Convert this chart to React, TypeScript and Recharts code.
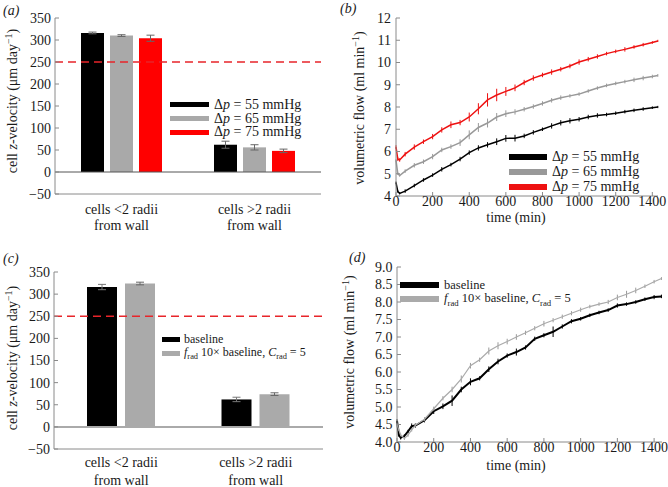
import React from 'react';
import { BarChart, Bar, LineChart, Line, XAxis, YAxis, ReferenceLine, ErrorBar, Legend } from 'recharts';

const FONT = '"Liberation Serif", "Times New Roman", serif';
const INK = '#1a1a1a';
const FRAME = '#8a8a8a';

// ---- (a) cell z-velocity for three pressure drops
const CATEGORIES = ['cells <2 radii\nfrom wall', 'cells >2 radii\nfrom wall'];
const VEL_55 = [316, 62];
const VEL_65 = [310, 56];
const VEL_75 = [304, 48];
const ERR_55 = [2, 8];
const ERR_65 = [2, 6];
const ERR_75 = [7, 4];
const PRESSURES = ['55', '65', '75'];

// ---- (c) baseline vs. increased radial force
const VEL_BASE = [316, 62];
const VEL_FRAD = [324, 74];
const ERR_BASE = [6, 5];
const ERR_FRAD = [3, 3];

const VEL_TICKS = [-50, 0, 50, 100, 150, 200, 250, 300, 350];
const TARGET_VEL = 250;

// ---- (b) volumetric flow over time
const TIME_B = [0, 10, 20, 50, 100, 150, 200, 250, 300, 350, 400, 450, 500, 550, 600, 650, 700, 750, 800, 850, 900, 950, 1000, 1050, 1100, 1150, 1200, 1250, 1300, 1350, 1400, 1430];
const FLOW_55 = [4.6, 4.2, 4.12, 4.22, 4.47, 4.72, 4.94, 5.2, 5.41, 5.66, 5.95, 6.16, 6.3, 6.44, 6.59, 6.6, 6.7, 6.86, 7.0, 7.15, 7.29, 7.38, 7.45, 7.55, 7.62, 7.66, 7.72, 7.79, 7.85, 7.91, 7.97, 8.0];
const FLOW_55_ERR = [0.05, 0.05, 0.05, 0.08, 0.08, 0.08, 0.08, 0.1, 0.08, 0.1, 0.1, 0.12, 0.12, 0.15, 0.15, 0.15, 0.1, 0.1, 0.08, 0.12, 0.12, 0.12, 0.1, 0.1, 0.1, 0.08, 0.08, 0.08, 0.08, 0.08, 0.06, 0.05];
const FLOW_65 = [5.6, 5.0, 4.92, 5.12, 5.38, 5.54, 5.77, 6.07, 6.22, 6.4, 6.75, 7.08, 7.28, 7.55, 7.7, 7.78, 7.9, 8.02, 8.16, 8.3, 8.42, 8.5, 8.58, 8.72, 8.85, 8.97, 9.06, 9.14, 9.22, 9.3, 9.37, 9.42];
const FLOW_65_ERR = [0.05, 0.05, 0.05, 0.08, 0.1, 0.1, 0.12, 0.1, 0.1, 0.15, 0.2, 0.2, 0.2, 0.18, 0.15, 0.12, 0.1, 0.1, 0.1, 0.1, 0.1, 0.08, 0.08, 0.08, 0.08, 0.08, 0.08, 0.08, 0.1, 0.1, 0.08, 0.06];
const FLOW_75 = [6.2, 5.65, 5.62, 5.88, 6.2, 6.44, 6.67, 6.97, 7.2, 7.3, 7.55, 7.92, 8.32, 8.54, 8.7, 8.86, 9.1, 9.3, 9.44, 9.57, 9.7, 9.84, 10.02, 10.15, 10.27, 10.4, 10.5, 10.59, 10.7, 10.8, 10.9, 10.97];
const FLOW_75_ERR = [0.08, 0.08, 0.08, 0.1, 0.12, 0.1, 0.12, 0.12, 0.15, 0.12, 0.2, 0.25, 0.3, 0.28, 0.2, 0.15, 0.12, 0.12, 0.1, 0.12, 0.1, 0.1, 0.12, 0.1, 0.1, 0.08, 0.08, 0.1, 0.08, 0.08, 0.06, 0.05];
const FLOW_B_TICKS = [4, 5, 6, 7, 8, 9, 10, 11, 12];

// ---- (d) volumetric flow, baseline vs. radial force
const TIME_D = [0, 10, 20, 40, 60, 80, 100, 150, 200, 250, 300, 350, 400, 450, 500, 550, 600, 650, 700, 750, 800, 850, 900, 950, 1000, 1050, 1100, 1150, 1200, 1250, 1300, 1350, 1400, 1440];
const FLOW_BASE = [4.6, 4.2, 4.12, 4.17, 4.3, 4.45, 4.47, 4.62, 4.88, 5.02, 5.18, 5.5, 5.72, 5.82, 6.08, 6.3, 6.47, 6.57, 6.7, 6.95, 7.05, 7.15, 7.3, 7.45, 7.52, 7.62, 7.7, 7.77, 7.9, 7.94, 8.0, 8.08, 8.14, 8.16];
const FLOW_BASE_ERR = [0.05, 0.05, 0.05, 0.05, 0.05, 0.08, 0.06, 0.06, 0.08, 0.08, 0.15, 0.08, 0.1, 0.06, 0.08, 0.08, 0.06, 0.1, 0.06, 0.06, 0.06, 0.15, 0.06, 0.06, 0.05, 0.05, 0.05, 0.05, 0.06, 0.05, 0.05, 0.05, 0.06, 0.05];
const FLOW_FRAD = [4.5, 4.35, 4.2, 4.1, 4.2, 4.35, 4.48, 4.65, 4.95, 5.25, 5.5, 5.8, 6.18, 6.35, 6.6, 6.75, 6.87, 7.0, 7.12, 7.25, 7.38, 7.48, 7.58, 7.68, 7.78, 7.87, 7.94, 8.0, 8.13, 8.22, 8.33, 8.45, 8.58, 8.67];
const FLOW_FRAD_ERR = [0.04, 0.04, 0.04, 0.04, 0.05, 0.05, 0.05, 0.06, 0.06, 0.06, 0.08, 0.1, 0.08, 0.06, 0.1, 0.1, 0.08, 0.08, 0.06, 0.06, 0.08, 0.06, 0.06, 0.06, 0.06, 0.05, 0.05, 0.06, 0.08, 0.1, 0.08, 0.05, 0.05, 0.04];
const FLOW_D_TICKS = [4, 4.5, 5, 5.5, 6, 6.5, 7, 7.5, 8, 8.5, 9];

const TIME_TICKS = [0, 200, 400, 600, 800, 1000, 1200, 1400];

const dataA = CATEGORIES.map((cat, i) => ({
  cat, p55: VEL_55[i], p65: VEL_65[i], p75: VEL_75[i], e55: ERR_55[i], e65: ERR_65[i], e75: ERR_75[i],
}));
const dataC = CATEGORIES.map((cat, i) => ({
  cat, base: VEL_BASE[i], frad: VEL_FRAD[i], eBase: ERR_BASE[i], eFrad: ERR_FRAD[i],
}));
const dataB = TIME_B.map((t, i) => ({
  t, p55: FLOW_55[i], p65: FLOW_65[i], p75: FLOW_75[i], e55: FLOW_55_ERR[i], e65: FLOW_65_ERR[i], e75: FLOW_75_ERR[i],
}));
const dataD = TIME_D.map((t, i) => ({
  t, base: FLOW_BASE[i], frad: FLOW_FRAD[i], eBase: FLOW_BASE_ERR[i], eFrad: FLOW_FRAD_ERR[i],
}));

const tickStyle = { fontFamily: FONT, fontSize: 14, fill: INK };
const minus = (v: number) => (v < 0 ? `\u2212${Math.abs(v)}` : `${v}`);

const catTick = (first: number, gap: number) => (props: any) => {
  const { x, y, payload } = props;
  const lines = String(payload.value).split('\n');
  return (
    <text x={x} y={y} textAnchor="middle" fontFamily={FONT} fontSize={14} fill={INK}>
      {lines.map((l, i) => (
        <tspan key={i} x={x} dy={i === 0 ? first : gap}>{l}</tspan>
      ))}
    </text>
  );
};

type LegendOpts = { swW: number; swH: number; rowH: number; gap: number; fontSize: number };
const legendContent = (labels: React.ReactNode[], o: LegendOpts) => (props: any) => {
  const items = props.payload || [];
  return (
    <div style={{ fontFamily: FONT, fontSize: o.fontSize, color: INK }}>
      {items.map((it: any, i: number) => (
        <div key={i} style={{ display: 'flex', alignItems: 'center', height: o.rowH, whiteSpace: 'nowrap' }}>
          <span style={{ display: 'inline-block', width: o.swW, height: o.swH, background: it.color, marginRight: o.gap }} />
          <span>{labels[i]}</span>
        </div>
      ))}
    </div>
  );
};

const dpLabels = PRESSURES.map((p) => (
  <span key={p}>Δ<i>p</i> = {p} mmHg</span>
));
const fradLabels = [
  <span key="b">baseline</span>,
  <span key="f">
    <i>f</i><sub style={{ fontSize: '0.7em' }}>rad</sub> 10× baseline, <i>C</i><sub style={{ fontSize: '0.7em' }}>rad</sub> = 5
  </span>,
];

export default function App() {
  return (
    <div style={{ position: 'absolute', left: 0, top: 0, width: 668, height: 487, background: '#fff' }}>
      {/* (a) */}
      <div style={{ position: 'absolute', left: 0, top: 0 }}>
        <BarChart width={334} height={240} data={dataA} margin={{ top: 18, right: 13, bottom: 6, left: 0 }} barSize={23} barGap={6}>
          <XAxis dataKey="cat" height={40} tickLine={false} tickSize={0} tickMargin={0} axisLine={{ stroke: FRAME }} tick={catTick(20, 16)} interval={0} />
          <XAxis xAxisId="top" dataKey="cat" orientation="top" height={0} tick={false} tickLine={false} axisLine={{ stroke: FRAME }} />
          <YAxis width={55} domain={[-50, 350]} ticks={VEL_TICKS} interval={0} tickFormatter={minus} tick={tickStyle} tickSize={-4} tickMargin={8} tickLine={{ stroke: FRAME }} axisLine={{ stroke: FRAME }} />
          <YAxis yAxisId="right" orientation="right" width={0} domain={[-50, 350]} tick={false} tickLine={false} axisLine={{ stroke: FRAME }} />
          <ReferenceLine y={0} stroke="#555" strokeWidth={1} />
          <Bar dataKey="p55" name="55" fill="#000" isAnimationActive={false}>
            <ErrorBar dataKey="e55" direction="y" width={4} stroke="#666" strokeWidth={1} />
          </Bar>
          <Bar dataKey="p65" name="65" fill="#a9a9a9" isAnimationActive={false}>
            <ErrorBar dataKey="e65" direction="y" width={4} stroke="#666" strokeWidth={1} />
          </Bar>
          <Bar dataKey="p75" name="75" fill="#ff0000" isAnimationActive={false}>
            <ErrorBar dataKey="e75" direction="y" width={4} stroke="#666" strokeWidth={1} />
          </Bar>
          <ReferenceLine y={TARGET_VEL} stroke="#e8252a" strokeWidth={1.6} strokeDasharray="8 5" />
          <Legend layout="horizontal" verticalAlign="middle" align="center"
            wrapperStyle={{ left: 170, top: 98, width: 160 }}
            content={legendContent(dpLabels, { swW: 39, swH: 5, rowH: 13.7, gap: 5, fontSize: 14 })} />
        </BarChart>
      </div>

      {/* (b) */}
      <div style={{ position: 'absolute', left: 334, top: 0 }}>
        <LineChart width={334} height={240} data={dataB} margin={{ top: 18, right: 10, bottom: 14, left: 0 }}>
          <XAxis dataKey="t" type="number" domain={[0, 1431]} ticks={TIME_TICKS} interval={0} height={30} tick={tickStyle} tickSize={-4} tickMargin={4} tickLine={{ stroke: FRAME }} axisLine={{ stroke: FRAME }} />
          <XAxis xAxisId="top" dataKey="t" type="number" domain={[0, 1431]} orientation="top" height={0} tick={false} tickLine={false} axisLine={{ stroke: FRAME }} />
          <YAxis width={62} domain={[4, 12]} ticks={FLOW_B_TICKS} interval={0} tick={tickStyle} tickSize={-4} tickMargin={9} tickLine={{ stroke: FRAME }} axisLine={{ stroke: FRAME }} />
          <YAxis yAxisId="right" orientation="right" width={0} domain={[4, 12]} tick={false} tickLine={false} axisLine={{ stroke: FRAME }} />
          <Line dataKey="p55" name="55" stroke="#000" strokeWidth={1.5} dot={false} isAnimationActive={false}>
            <ErrorBar dataKey="e55" direction="y" width={0} stroke="#000" strokeWidth={1} />
          </Line>
          <Line dataKey="p65" name="65" stroke="#999" strokeWidth={1.5} dot={false} isAnimationActive={false}>
            <ErrorBar dataKey="e65" direction="y" width={0} stroke="#999" strokeWidth={1} />
          </Line>
          <Line dataKey="p75" name="75" stroke="#ee1111" strokeWidth={1.5} dot={false} isAnimationActive={false}>
            <ErrorBar dataKey="e75" direction="y" width={0} stroke="#ee1111" strokeWidth={1} />
          </Line>
          <Legend layout="horizontal" verticalAlign="middle" align="center"
            wrapperStyle={{ left: 175, top: 149, width: 150 }}
            content={legendContent(dpLabels, { swW: 38, swH: 6, rowH: 15, gap: 5, fontSize: 14 })} />
        </LineChart>
      </div>

      {/* (c) */}
      <div style={{ position: 'absolute', left: 0, top: 240 }}>
        <BarChart width={334} height={247} data={dataC} margin={{ top: 32, right: 11, bottom: 8, left: 0 }} barSize={30} barGap={8}>
          <XAxis dataKey="cat" height={30} tickLine={false} tickSize={0} tickMargin={0} axisLine={{ stroke: FRAME }} tick={catTick(18, 18)} interval={0} />
          <XAxis xAxisId="top" dataKey="cat" orientation="top" height={0} tick={false} tickLine={false} axisLine={{ stroke: FRAME }} />
          <YAxis width={54} domain={[-50, 350]} ticks={VEL_TICKS} interval={0} tickFormatter={minus} tick={tickStyle} tickSize={-4} tickMargin={8} tickLine={{ stroke: FRAME }} axisLine={{ stroke: FRAME }} />
          <YAxis yAxisId="right" orientation="right" width={0} domain={[-50, 350]} tick={false} tickLine={false} axisLine={{ stroke: FRAME }} />
          <ReferenceLine y={0} stroke="#aaa" strokeWidth={2} />
          <Bar dataKey="base" name="baseline" fill="#000" isAnimationActive={false}>
            <ErrorBar dataKey="eBase" direction="y" width={4} stroke="#777" strokeWidth={1} />
          </Bar>
          <Bar dataKey="frad" name="frad" fill="#aaaaaa" isAnimationActive={false}>
            <ErrorBar dataKey="eFrad" direction="y" width={4} stroke="#666" strokeWidth={1} />
          </Bar>
          <ReferenceLine y={TARGET_VEL} stroke="#e8252a" strokeWidth={1.6} strokeDasharray="8 5" />
          <Legend layout="horizontal" verticalAlign="middle" align="center"
            wrapperStyle={{ left: 162, top: 93, width: 170 }}
            content={legendContent(fradLabels, { swW: 18, swH: 5, rowH: 13.5, gap: 4, fontSize: 12 })} />
        </BarChart>
      </div>

      {/* (d) */}
      <div style={{ position: 'absolute', left: 334, top: 240 }}>
        <LineChart width={334} height={247} data={dataD} margin={{ top: 27, right: 6, bottom: 15, left: 0 }}>
          <XAxis dataKey="t" type="number" domain={[0, 1443]} ticks={TIME_TICKS} interval={0} height={30} tick={tickStyle} tickSize={-4} tickMargin={4} tickLine={{ stroke: FRAME }} axisLine={{ stroke: FRAME }} />
          <XAxis xAxisId="top" dataKey="t" type="number" domain={[0, 1443]} orientation="top" height={0} tick={false} tickLine={false} axisLine={{ stroke: FRAME }} />
          <YAxis width={63} domain={[4, 9]} ticks={FLOW_D_TICKS} interval={0} tickFormatter={(v: number) => v.toFixed(1)} tick={tickStyle} tickSize={-4} tickMargin={8.5} tickLine={{ stroke: FRAME }} axisLine={{ stroke: FRAME }} />
          <YAxis yAxisId="right" orientation="right" width={0} domain={[4, 9]} tick={false} tickLine={false} axisLine={{ stroke: FRAME }} />
          <Line dataKey="base" name="baseline" stroke="#000" strokeWidth={2} dot={false} isAnimationActive={false}>
            <ErrorBar dataKey="eBase" direction="y" width={0} stroke="#000" strokeWidth={1} />
          </Line>
          <Line dataKey="frad" name="frad" stroke="#aaa" strokeWidth={1.2} dot={false} isAnimationActive={false}>
            <ErrorBar dataKey="eFrad" direction="y" width={0} stroke="#999" strokeWidth={1} />
          </Line>
          <Legend layout="horizontal" verticalAlign="middle" align="center"
            wrapperStyle={{ left: 66, top: 38, width: 200 }}
            content={legendContent(fradLabels, { swW: 39, swH: 6, rowH: 14, gap: 5, fontSize: 12.5 })} />
        </LineChart>
      </div>

      {/* panel letters and axis titles */}
      <svg width={668} height={487} style={{ position: 'absolute', left: 0, top: 0, pointerEvents: 'none' }}
        fontFamily={FONT} fill={INK}>
        <text x={3} y={15} fontSize={14} fontStyle="italic">(a)</text>
        <text x={340} y={13} fontSize={14} fontStyle="italic">(b)</text>
        <text x={3} y={263} fontSize={14} fontStyle="italic">(c)</text>
        <text x={349} y={262} fontSize={14} fontStyle="italic">(d)</text>

        <text transform="translate(16.5,101) rotate(-90)" textAnchor="middle" fontSize={14}>
          cell <tspan fontStyle="italic">z</tspan>-velocity (μm day<tspan dy={-5} fontSize={10}>−1</tspan><tspan dy={5}>)</tspan>
        </text>
        <text transform="translate(16.5,358) rotate(-90)" textAnchor="middle" fontSize={14}>
          cell <tspan fontStyle="italic">z</tspan>-velocity (μm day<tspan dy={-5} fontSize={10}>−1</tspan><tspan dy={5}>)</tspan>
        </text>
        <text transform="translate(363.5,108) rotate(-90)" textAnchor="middle" fontSize={14}>
          volumetric flow (ml min<tspan dy={-5} fontSize={10}>−1</tspan><tspan dy={5}>)</tspan>
        </text>
        <text transform="translate(353.5,352) rotate(-90)" textAnchor="middle" fontSize={14}>
          volumetric flow (ml min<tspan dy={-5} fontSize={10}>−1</tspan><tspan dy={5}>)</tspan>
        </text>
        <text x={516} y={222} textAnchor="middle" fontSize={14}>time (min)</text>
        <text x={516} y={470} textAnchor="middle" fontSize={14}>time (min)</text>
      </svg>
    </div>
  );
}
